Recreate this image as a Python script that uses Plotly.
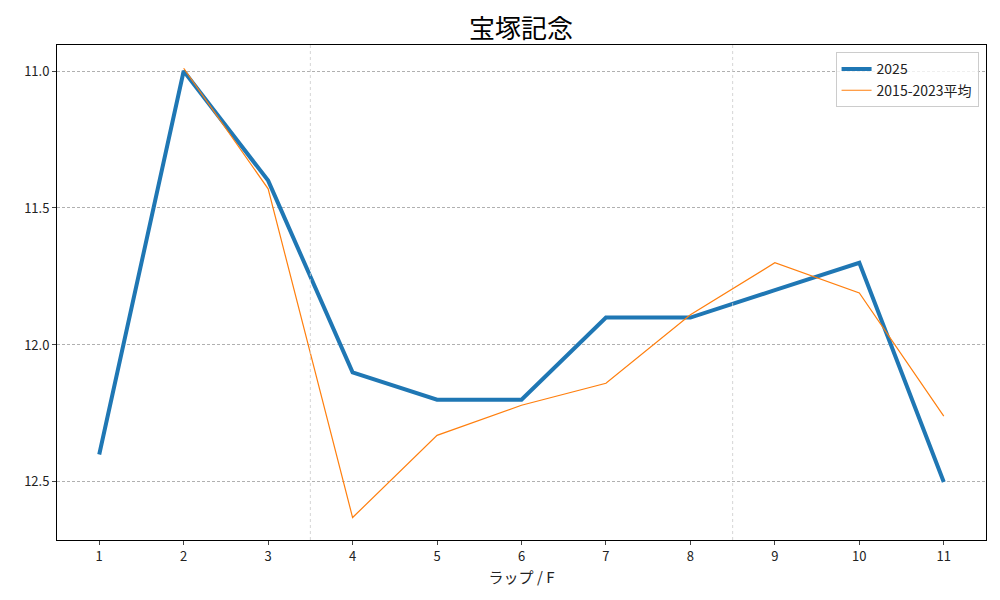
import plotly.graph_objects as go

laps = list(range(1, 12))
lap_2025 = [12.4, 11.0, 11.4, 12.1, 12.2, 12.2, 11.9, 11.9, 11.8, 11.7, 12.5]
lap_avg = [None, 10.99, 11.43, 12.63, 12.33, 12.22, 12.14, 11.89, 11.70, 11.81, 12.26]
split_laps = [3.5, 8.5]

FONT = "Noto Sans CJK JP"

fig = go.Figure()
fig.add_trace(go.Scatter(x=laps, y=lap_2025, mode="lines", name="2025",
                         line=dict(color="#1f77b4", width=4)))
fig.add_trace(go.Scatter(x=laps, y=lap_avg, mode="lines", name="2015-2023平均",
                         line=dict(color="#ff7f0e", width=1.2)))

for xv in split_laps:
    fig.add_vline(x=xv, line=dict(color="#cccccc", width=0.8, dash="dot"))

fig.update_layout(
    width=1000, height=600,
    paper_bgcolor="white", plot_bgcolor="white",
    margin=dict(l=49, r=22, t=37, b=68),
    font=dict(family=FONT, size=13, color="#222"),
    title=dict(text="宝塚記念", x=0.513, xanchor="center", yref="container",
               y=0.965, yanchor="middle",
               font=dict(size=26, color="black", family=FONT)),
    legend=dict(x=0.992, y=0.985, xanchor="right", yanchor="top",
                bordercolor="#cccccc", borderwidth=1, bgcolor="rgba(255,255,255,0.8)",
                font=dict(size=14), tracegroupgap=0),
    showlegend=True,
)
fig.update_xaxes(range=[0.5, 11.5], tickmode="array", tickvals=laps,
                 ticks="outside", ticklen=4, showgrid=False,
                 showline=True, linecolor="black", mirror=True, linewidth=1,
                 title=dict(text="ラップ / F", font=dict(size=15), standoff=8))
fig.update_yaxes(range=[12.712, 10.905], tickvals=[11.0, 11.5, 12.0, 12.5],
                 ticktext=["11.0", "11.5", "12.0", "12.5"],
                 ticks="outside", ticklen=4, showgrid=True,
                 gridcolor="#b0b0b0", griddash="3px,2px", gridwidth=0.6,
                 showline=True, linecolor="black", mirror=True, linewidth=1,
                 zeroline=False)

fig.write_html("out.html")
